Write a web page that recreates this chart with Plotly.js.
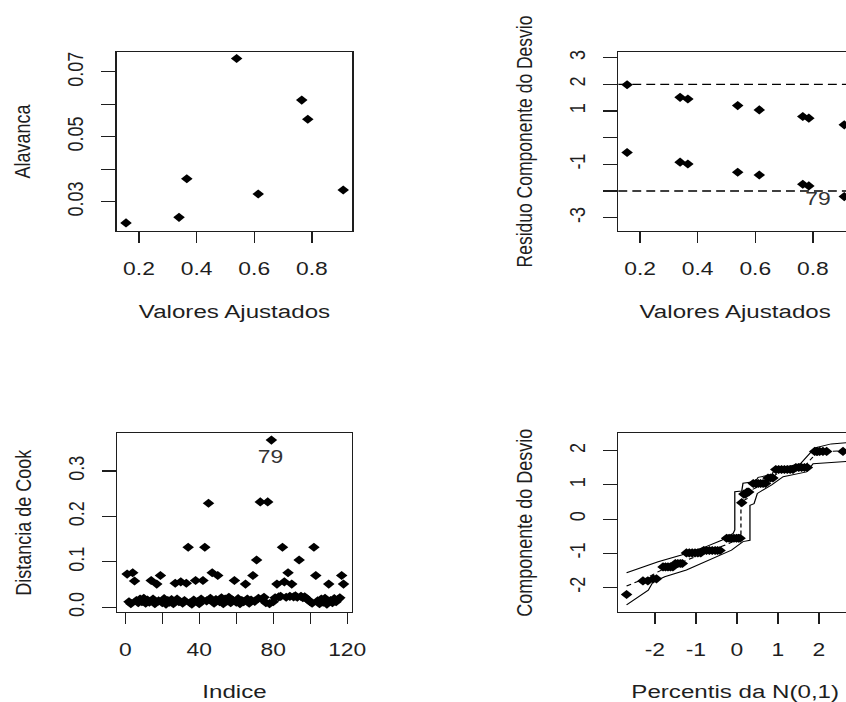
<!DOCTYPE html>
<html><head><meta charset="utf-8">
<script src="https://cdn.plot.ly/plotly-3.0.1.min.js"></script>
<style>
html,body{margin:0;padding:0;overflow:hidden;background:#fff;width:846px;height:702px}
#wrap{width:846px;height:702px;overflow:hidden;position:relative;background:#fff}
#chart{width:700px;height:702px;transform:scaleX(1.27);transform-origin:0 0}
</style></head>
<body><div id="wrap"><div id="chart"></div></div>
<script>
// ---------- data ----------
const fittedValues = [0.155, 0.339, 0.366, 0.539, 0.614, 0.765, 0.786, 0.909];
const leverage     = [0.0235, 0.0252, 0.0371, 0.0741, 0.0324, 0.0613, 0.0554, 0.0336];
const residUpper   = [1.98, 1.51, 1.45, 1.20, 1.04, 0.79, 0.73, 0.48];
const residLower   = [-0.56, -0.92, -0.99, -1.30, -1.40, -1.75, -1.81, -2.21];

const cookDistance = [
 0.073,0.012,0.008,0.076,0.058,0.015,0.010,0.018,0.012,0.020,
 0.009,0.016,0.011,0.059,0.018,0.008,0.051,0.014,0.070,0.010,
 0.019,0.007,0.015,0.011,0.017,0.008,0.053,0.018,0.012,0.056,
 0.009,0.015,0.053,0.132,0.010,0.007,0.016,0.059,0.012,0.008,
 0.018,0.059,0.132,0.014,0.229,0.020,0.076,0.009,0.017,0.070,
 0.012,0.021,0.008,0.018,0.014,0.022,0.010,0.016,0.059,0.011,
 0.019,0.008,0.015,0.012,0.051,0.018,0.009,0.016,0.070,0.013,
 0.104,0.020,0.232,0.018,0.022,0.010,0.232,0.008,0.368,0.012,
 0.021,0.051,0.023,0.024,0.132,0.056,0.022,0.076,0.024,0.051,
 0.023,0.025,0.022,0.104,0.024,0.021,0.023,0.019,0.016,0.012,
 0.009,0.132,0.070,0.014,0.008,0.018,0.011,0.020,0.007,0.051,
 0.015,0.010,0.019,0.012,0.017,0.021,0.070,0.051];
const cookIndex = cookDistance.map((_, i) => i + 1);

const qqTheoretical = [-2.69,-2.29,-2.17,-2.04,-1.96,
 -1.80,-1.74,-1.68,-1.62,-1.56,-1.50,-1.44,-1.38,-1.33,
 -1.23,-1.16,-1.09,-1.02,-0.95,-0.88,-0.81,-0.74,-0.67,-0.60,-0.53,-0.47,-0.41,
 -0.25,-0.19,-0.13,-0.07,-0.01,0.04,0.08,
 0.12,0.17,0.21,0.25,0.29,
 0.40,0.46,0.52,0.58,0.64,0.70,0.76,0.82,0.88,
 0.95,1.02,1.09,1.16,1.23,1.30,1.37,1.44,1.51,1.58,1.65,1.72,
 1.90,1.96,2.02,2.10,2.19,2.59,2.75];
const qqResidual = [-2.21,-1.81,-1.81,-1.75,-1.75,
 -1.40,-1.40,-1.40,-1.40,-1.40,-1.30,-1.30,-1.30,-1.30,
 -0.99,-0.99,-0.99,-0.99,-0.99,-0.99,-0.92,-0.92,-0.92,-0.92,-0.92,-0.92,-0.92,
 -0.56,-0.56,-0.56,-0.56,-0.56,-0.56,-0.56,
 0.48,0.73,0.73,0.79,0.79,
 1.04,1.04,1.04,1.04,1.04,1.04,1.20,1.20,1.20,
 1.45,1.45,1.45,1.45,1.45,1.45,1.45,1.51,1.51,1.51,1.51,1.51,
 1.98,1.98,1.98,1.98,1.98,1.98,1.98];

const envUpperX = [-2.69,-1.92,-1.35,-0.78,-0.37,-0.09,-0.05,-0.05,0.12,0.15,0.45,0.52,0.85,0.95,1.30,1.55,1.90,2.30,2.85];
const envUpperY = [-1.57,-1.25,-1.05,-0.82,-0.62,-0.42,-0.32,0.80,0.82,1.05,1.10,1.22,1.30,1.50,1.55,1.62,2.08,2.20,2.25];
const envMidX   = [-2.69,-2.20,-1.85,-1.25,-0.75,-0.20,0.08,0.10,0.10,0.25,0.35,0.70,1.00,1.60,1.88,2.30,2.85];
const envMidY   = [-1.96,-1.72,-1.50,-1.22,-0.98,-0.72,-0.55,-0.45,0.50,0.60,0.85,1.05,1.35,1.48,1.85,1.98,2.02];
const envLowerX = [-2.69,-2.16,-2.05,-1.76,-1.23,-0.70,-0.13,0.15,0.32,0.32,0.42,0.50,0.85,1.13,1.70,1.86,2.51,2.85];
const envLowerY = [-2.51,-2.08,-1.85,-1.69,-1.49,-1.20,-0.91,-0.66,-0.62,0.40,0.45,0.75,1.00,1.24,1.38,1.62,1.68,1.70];

// ---------- styling ----------
const FONT = '"Liberation Sans", Arial, sans-serif';
const INK = '#1e1e1e';
const W = 700, H = 702;
const dx = (a, b) => [a / W, b / W];
const dy = (top, bottom) => [1 - bottom / H, 1 - top / H];

const axBase = {
  showline: true, mirror: true, linecolor: INK, linewidth: 1.2,
  ticks: 'outside', ticklen: 11, tickwidth: 1.1, tickcolor: INK,
  showgrid: false, zeroline: false, fixedrange: true,
  tickfont: {family: FONT, size: 18, color: INK}
};
const xBase = Object.assign({}, axBase, {ticklabelstandoff: 10});
const yBase = Object.assign({}, axBase, {tickangle: -90, ticklabelstandoff: 7});
const ttl = (t, s, f) => ({text: t, font: {family: FONT, size: f, color: INK}, standoff: s});

const mk = {symbol: 'diamond', size: 7, color: '#000', line: {width: 0}};

const traces = [
  {x: fittedValues, y: leverage, xaxis: 'x', yaxis: 'y', type: 'scatter', mode: 'markers', marker: mk},
  {x: fittedValues.concat(fittedValues), y: residUpper.concat(residLower), xaxis: 'x2', yaxis: 'y2', type: 'scatter', mode: 'markers', marker: mk},
  {x: cookIndex, y: cookDistance, xaxis: 'x3', yaxis: 'y3', type: 'scatter', mode: 'markers', marker: mk},
  {x: envUpperX, y: envUpperY, xaxis: 'x4', yaxis: 'y4', type: 'scatter', mode: 'lines', line: {color: '#000', width: 1}},
  {x: envLowerX, y: envLowerY, xaxis: 'x4', yaxis: 'y4', type: 'scatter', mode: 'lines', line: {color: '#000', width: 1}},
  {x: envMidX, y: envMidY, xaxis: 'x4', yaxis: 'y4', type: 'scatter', mode: 'lines', line: {color: '#000', width: 1, dash: '4px,3px'}},
  {x: qqTheoretical, y: qqResidual, xaxis: 'x4', yaxis: 'y4', type: 'scatter', mode: 'markers', marker: mk}
];

const layout = {
  width: W, height: H, margin: {l: 0, r: 0, t: 0, b: 0},
  paper_bgcolor: '#fff', plot_bgcolor: '#fff', showlegend: false,
  font: {family: FONT, color: INK},
  xaxis: Object.assign({}, xBase, {domain: dx(92.1, 277.2), range: [0.1236, 0.9396], anchor: 'y',
    tickvals: [0.2, 0.4, 0.6, 0.8], ticktext: ['0.2', '0.4', '0.6', '0.8'], title: ttl('Valores Ajustados', 27, 19)}),
  yaxis: Object.assign({}, yBase, {domain: dy(52, 231), range: [0.021, 0.0761], anchor: 'x',
    tickvals: [0.03, 0.04, 0.05, 0.06, 0.07], ticktext: ['0.03', '', '0.05', '', '0.07'], title: ttl('Alavanca', 20, 18)}),
  xaxis2: Object.assign({}, xBase, {domain: dx(486.9, 670.9), range: [0.1247, 0.936], anchor: 'y2',
    tickvals: [0.2, 0.4, 0.6, 0.8], ticktext: ['0.2', '0.4', '0.6', '0.8'], title: ttl('Valores Ajustados', 27, 19)}),
  yaxis2: Object.assign({}, yBase, {domain: dy(52, 231), range: [-3.5, 3.21], anchor: 'x2',
    tickvals: [-3, -2, -1, 0, 1, 2, 3], ticktext: ['-3', '', '-1', '', '1', '2', '3'], title: ttl('Residuo Componente do Desvio', 20, 17.5)}),
  xaxis3: Object.assign({}, xBase, {domain: dx(92.4, 276.9), range: [-4.3, 122.4], anchor: 'y3',
    tickvals: [0, 20, 40, 60, 80, 100, 120], ticktext: ['0', '', '40', '', '80', '', '120'], title: ttl('Indice', 27, 19)}),
  yaxis3: Object.assign({}, yBase, {domain: dy(433.3, 612), range: [-0.0104, 0.383], anchor: 'x3',
    tickvals: [0, 0.1, 0.2, 0.3], ticktext: ['0.0', '0.1', '0.2', '0.3'], title: ttl('Distancia de Cook', 20, 18)}),
  xaxis4: Object.assign({}, xBase, {domain: dx(486.9, 670.9), range: [-2.89, 2.81], anchor: 'y4',
    tickvals: [-2, -1, 0, 1, 2], ticktext: ['-2', '-1', '0', '1', '2'], title: ttl('Percentis da N(0,1)', 27, 19)}),
  yaxis4: Object.assign({}, yBase, {domain: dy(433.3, 612), range: [-2.72, 2.51], anchor: 'x4',
    tickvals: [-2, -1, 0, 1, 2], ticktext: ['-2', '-1', '0', '1', '2'], title: ttl('Componente do Desvio', 20, 18)}),
  shapes: [
    {type: 'line', xref: 'x2 domain', yref: 'y2', x0: 0, x1: 1, y0: 2, y1: 2, line: {color: '#000', width: 1.3, dash: '7px,4px'}},
    {type: 'line', xref: 'x2 domain', yref: 'y2', x0: 0, x1: 1, y0: -2, y1: -2, line: {color: '#000', width: 1.3, dash: '7px,4px'}}
  ],
  annotations: [
    {xref: 'x2', yref: 'y2', x: 0.818, y: -2.30, text: '79', showarrow: false, font: {family: FONT, size: 18, color: '#333'}},
    {xref: 'x3', yref: 'y3', x: 78.6, y: 0.330, text: '79', showarrow: false, font: {family: FONT, size: 18, color: '#333'}}
  ]
};

Plotly.newPlot('chart', traces, layout, {staticPlot: true, displayModeBar: false});
</script>
</body></html>
